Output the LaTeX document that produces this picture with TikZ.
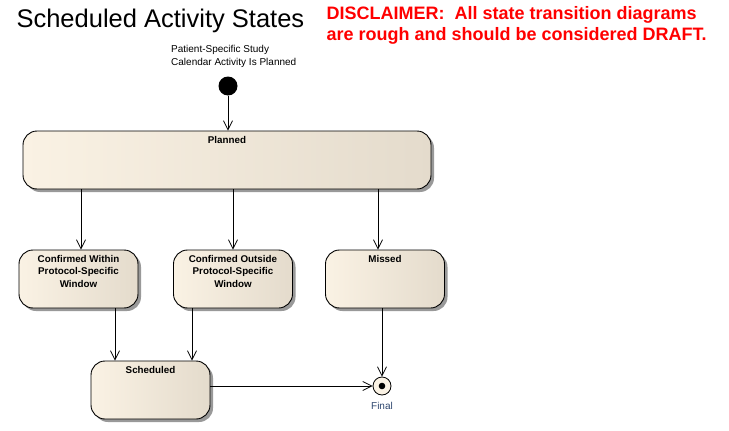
\documentclass[tikz,border=0pt]{standalone}
\usepackage{fontspec}
\setmainfont{Liberation Sans}
\usetikzlibrary{positioning,arrows.meta,shadows}

\definecolor{stateleft}{RGB}{250,242,228}
\definecolor{stateright}{RGB}{228,219,204}
\definecolor{finalblue}{RGB}{45,70,110}

\begin{document}
\begin{tikzpicture}[x=1pt,y=-1pt,
	state/.style={draw,rounded corners=14pt,line width=0.9pt,left color=stateleft,right color=stateright,
		drop shadow={shadow xshift=3pt,shadow yshift=-3pt,fill=black!40,opacity=1},
		minimum height=58pt,inner sep=0pt},
	statename/.style={font=\fontsize{9.8}{12.6}\selectfont\bfseries,align=center,anchor=north,yshift=-2pt},
	trans/.style={-{Straight Barb[length=9pt,width=9pt]},line width=0.8pt},
	smalltext/.style={font=\fontsize{10}{13}\selectfont}]
	\useasboundingbox (0,0) rectangle (729,431);
	
	\node[anchor=west,font=\fontsize{25.5}{30}\selectfont] (title) at (13,21) {Scheduled Activity States};
	\node[anchor=north west,align=left,text=red,font=\fontsize{18}{21}\selectfont\bfseries] (disclaimer) at (323,3)
		{DISCLAIMER:\ \ All state transition diagrams\\are rough and should be considered DRAFT.};
	
	\node[smalltext,anchor=north west,align=left,inner sep=0pt] (startnote) at (171,45)
		{Patient-Specific Study\\Calendar Activity Is Planned};
	\node[circle,fill=black,minimum size=19pt,inner sep=0pt] (start) at (228,86) {};
	
	\node[state,minimum width=408pt,label={[statename]north:Planned}] (planned) at (227,160) {};
	\node[state,minimum width=119pt,label={[statename]north:Confirmed Within\\Protocol-Specific\\Window}] (within) at (78.5,279) {};
	\node[state,minimum width=119pt,label={[statename]north:Confirmed Outside\\Protocol-Specific\\Window}] (outside) at (233,279) {};
	\node[state,minimum width=119pt,label={[statename]north:Missed}] (missed) at (385,279) {};
	\node[state,minimum width=119pt,label={[statename]north:Scheduled}] (scheduled) at (150.5,390) {};
	
	\node[circle,draw,line width=0.8pt,fill=stateleft,minimum size=18pt,inner sep=0pt] (final) at (382,386) {};
	\fill (final.center) circle (3.3pt);
	\node[smalltext,text=finalblue,below=3pt of final] (finalname) {Final};
	
	\draw[trans] (start) -- (planned.north -| start);
	\draw[trans] (planned.south -| 81,0) -- (within.north -| 81,0);
	\draw[trans] (planned.south -| outside) -- (outside.north);
	\draw[trans] (planned.south -| 378,0) -- (missed.north -| 378,0);
	\draw[trans] (within.south -| 115,0) -- (scheduled.north -| 115,0);
	\draw[trans] (outside.south -| 192,0) -- (scheduled.north -| 192,0);
	\draw[trans] (missed.south -| final) -- (final);
	\draw[trans] (scheduled.east |- final) -- (final);
\end{tikzpicture}
\end{document}
